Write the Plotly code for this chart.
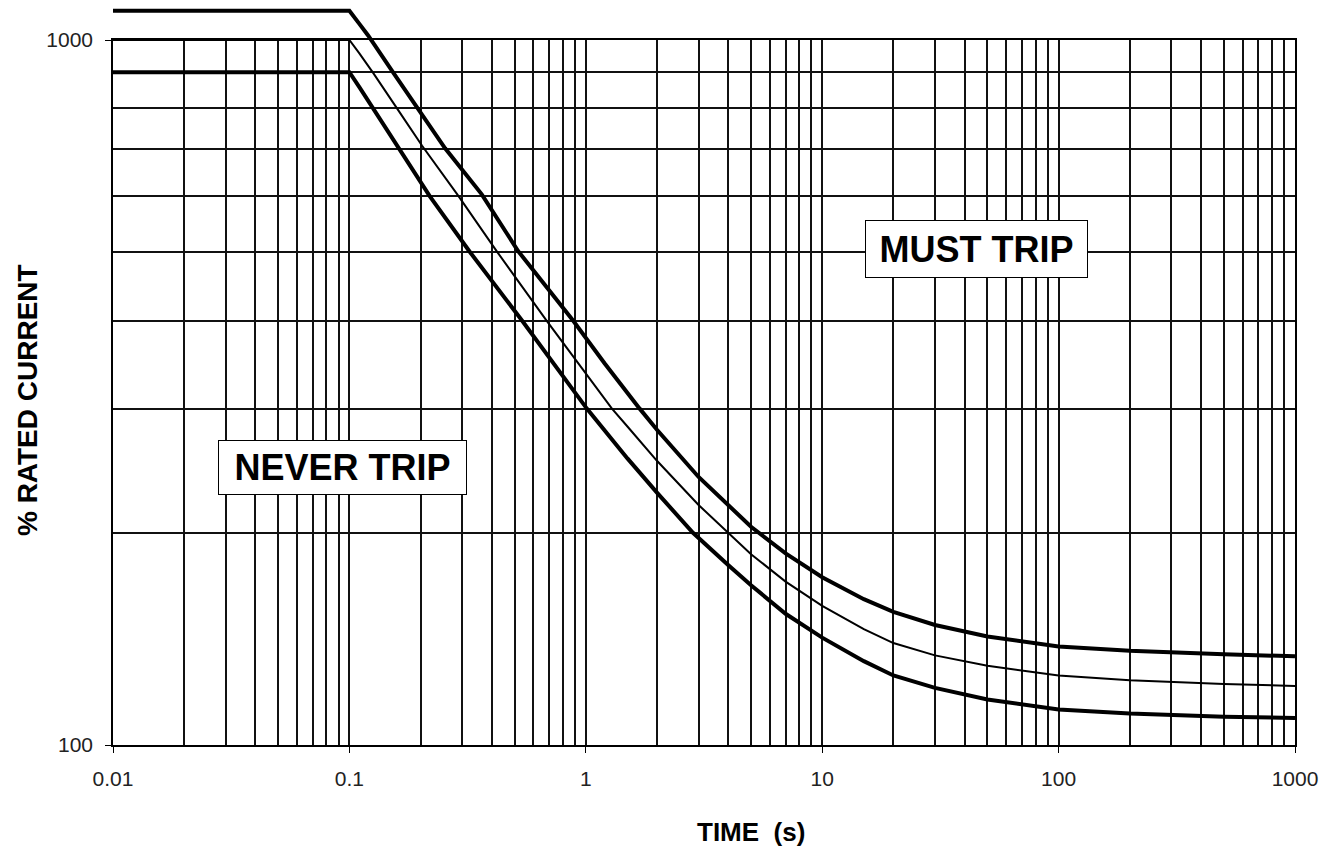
import plotly.graph_objects as go

# ---- data (time in s, % rated current) ----
upper_time = [0.01, 0.1, 0.11, 0.12, 0.153, 0.195, 0.254, 0.363, 0.517, 0.883, 1.2, 1.69, 2, 3, 4, 5, 7, 10, 15, 20, 30, 50, 100, 200, 500, 1000]
upper_curr = [1100, 1100, 1055, 1015, 900, 800, 702, 604, 502, 400, 348, 300, 280, 240, 219, 204, 187, 173, 161, 154.5, 148, 142.5, 138, 136, 134.5, 133.6]

middle_time = [0.01, 0.1, 0.11, 0.126, 0.159, 0.203, 0.288, 0.421, 0.686, 1, 1.29, 1.5, 2, 3, 4, 5, 7, 10, 15, 20, 30, 50, 100, 200, 500, 1000]
middle_curr = [1000, 1000, 958, 898, 800, 708, 602, 501, 399, 336, 300, 283, 253, 219, 200, 186.5, 170.5, 157.5, 146, 139.5, 134, 129.5, 125.5, 123.5, 122, 121.3]

lower_time = [0.01, 0.1, 0.11, 0.126, 0.159, 0.219, 0.324, 0.537, 1.01, 1.5, 2, 2.84, 4, 5, 7, 10, 15, 20, 30, 50, 100, 200, 500, 1000]
lower_curr = [900, 900, 858, 800, 707, 600, 500, 400, 300, 255, 228, 200, 180, 168.5, 153.5, 142, 131.5, 125.5, 120.5, 116, 112.3, 110.8, 109.7, 109.2]

x_ticks = [0.01, 0.1, 1, 10, 100, 1000]
x_tick_text = ["0.01", "0.1", "1", "10", "100", "1000"]
y_ticks = [100, 1000]
y_tick_text = ["100", "1000"]

x_minor = [m * d for d in [0.01, 0.1, 1, 10, 100] for m in range(2, 10)]
y_minor = [m * 100 for m in range(2, 10)]

# ---- figure (page body has an 8px margin) ----
W, H = 1322, 844
ML, MR, MT, MB = 105, 35, 0, 107
plot_h = H - MT - MB          # 737
grid_h = 705                  # height of the 100..1000 decade
y1_top = grid_h / plot_h

fig = go.Figure()
# lower curve stays inside the 100..1000 grid; the others may rise above it
fig.add_trace(go.Scatter(x=lower_time, y=lower_curr, mode="lines", xaxis="x", yaxis="y",
                         line=dict(color="black", width=4),
                         showlegend=False, hoverinfo="skip"))
fig.add_trace(go.Scatter(x=middle_time, y=middle_curr, mode="lines", xaxis="x2", yaxis="y2",
                         line=dict(color="black", width=2),
                         showlegend=False, hoverinfo="skip"))
fig.add_trace(go.Scatter(x=upper_time, y=upper_curr, mode="lines", xaxis="x2", yaxis="y2",
                         line=dict(color="black", width=4),
                         showlegend=False, hoverinfo="skip"))

tick_font = dict(family="Liberation Sans, Arial, sans-serif", size=21, color="#222")
grid_col = "#111111"
gw = 1.6

fig.update_layout(
    width=W, height=H,
    margin=dict(l=ML, r=MR, t=MT, b=MB, autoexpand=False),
    paper_bgcolor="white", plot_bgcolor="rgba(0,0,0,0)",
    showlegend=False,
    xaxis=dict(type="log", range=[-2, 3], domain=[0, 1], anchor="y", automargin=False,
               tickmode="array", tickvals=x_ticks, ticktext=x_tick_text,
               ticks="outside", ticklen=6, tickcolor="black", tickwidth=1,
               tickfont=tick_font, ticklabelstandoff=8,
               showgrid=True, gridcolor=grid_col, gridwidth=gw,
               minor=dict(tickmode="array", tickvals=x_minor, showgrid=True,
                          gridcolor=grid_col, gridwidth=gw, ticks=""),
               showline=True, linecolor="black", linewidth=gw, mirror=True,
               zeroline=False, fixedrange=True),
    yaxis=dict(type="log", range=[2, 3], domain=[0, y1_top], anchor="x", automargin=False,
               tickmode="array", tickvals=y_ticks, ticktext=y_tick_text,
               ticks="outside", ticklen=6, tickcolor="black", tickwidth=1,
               tickfont=tick_font, ticklabelstandoff=8,
               showgrid=True, gridcolor=grid_col, gridwidth=gw,
               minor=dict(tickmode="array", tickvals=y_minor, showgrid=True,
                          gridcolor=grid_col, gridwidth=gw, ticks=""),
               showline=True, linecolor="black", linewidth=gw, mirror=True,
               zeroline=False, fixedrange=True),
    xaxis2=dict(type="log", range=[-2, 3], domain=[0, 1], anchor="y2", automargin=False,
                visible=False, showgrid=False, fixedrange=True),
    yaxis2=dict(type="log", range=[2, 2 + plot_h / grid_h], domain=[0, 1], anchor="x2",
                automargin=False, visible=False, showgrid=False, fixedrange=True),
)

label_font = dict(family="Liberation Sans, Arial, sans-serif", size=36, color="black")

fig.add_annotation(text="<b>NEVER TRIP</b>", xref="paper", yref="paper",
                   x=0.194, y=0.3765, xanchor="center", yanchor="middle",
                   showarrow=False, font=label_font, bgcolor="white",
                   bordercolor="black", borderwidth=1, borderpad=0,
                   width=247, height=53)
fig.add_annotation(text="<b>MUST TRIP</b>", xref="paper", yref="paper",
                   x=0.7305, y=0.673, xanchor="center", yanchor="middle",
                   showarrow=False, font=label_font, bgcolor="white",
                   bordercolor="black", borderwidth=1, borderpad=0,
                   width=221, height=56)
fig.add_annotation(text="<b>TIME  (s)</b>", xref="paper", yref="paper",
                   x=0.5398, y=-0.118, xanchor="center", yanchor="middle",
                   showarrow=False,
                   font=dict(family="Liberation Sans, Arial, sans-serif", size=26, color="black"))
fig.add_annotation(text="<b>% RATED CURRENT</b>", xref="paper", yref="paper",
                   x=-0.0728, y=0.468, xanchor="center", yanchor="middle",
                   textangle=-90, showarrow=False,
                   font=dict(family="Liberation Sans, Arial, sans-serif", size=28, color="black"))

fig.write_html("out.html")
